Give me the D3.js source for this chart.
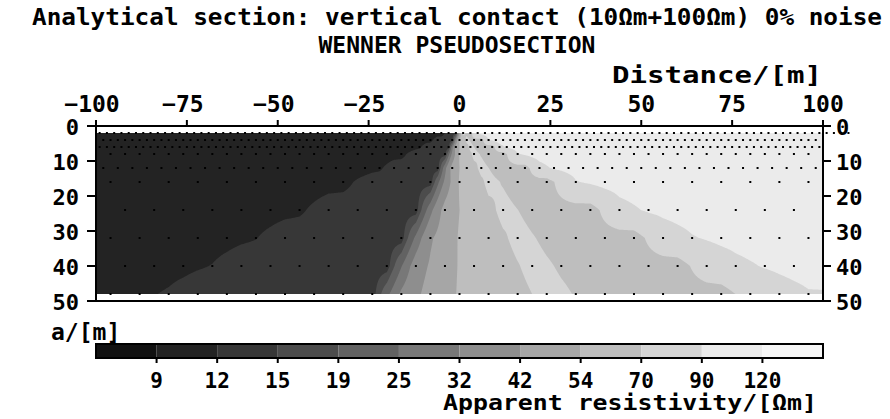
<!DOCTYPE html>
<html>
<head>
<meta charset="utf-8">
<script src="https://cdn.jsdelivr.net/npm/d3@7"></script>
<style>
  html, body { margin: 0; padding: 0; background: #fff; }
  svg { display: block; }
  text { font-family: "DejaVu Sans Mono", "Liberation Mono", monospace; font-weight: bold; fill: #000; }
</style>
</head>
<body>
<svg id="chart" width="890" height="419"></svg>
<script>
// Wenner pseudosection over a vertical contact (10 Ohm.m | 100 Ohm.m)

// Colour classes: boundaries in Ohm.m and the grey of each class
const classBreaks = [9, 12, 15, 19, 25, 32, 42, 54, 70, 90, 120];
const classGreys = ["#111111", "#232323", "#373737", "#4c4c4c", "#626262", "#787878",
                    "#8e8e8e", "#a6a6a6", "#bebebe", "#d5d5d5", "#ebebeb", "#f6f6f6"];

// Electrode spacings a (m), one per data row
const spacings = [2, 4, 6, 8, 12, 16, 24, 32, 40, 48];
// Station grid of each row: first midpoint and step along the line (m)
const rowStart = [-99, -100, -99, -100, -98, -96, -100, -96, -100, -96];
const rowStep  = [2, 2, 2, 4, 4, 8, 8, 8, 8, 8];

// Apparent resistivity (Ohm.m) at each station, row by row
const rhoA2 = [
  10,10,10,10,10,10,10,10,10,10,10,10,10,10,10,10,10,10,10,10,10,10,10,10,10,10,10,10,10,10,
  10,10,10,10,10,10,10,10,10,10,10,10,10,10,10,
  10.1,10.2,10.5,13.7,12.7,72.7,63.2,95.1,98.4,99.3,99.6,99.8,
  100,100,100,100,100,100,100,100,100,100,100,100,100,100,100,100,100,100,100,100,100,100,
  100,100,100,100,100,100,100,100,100,100,100,100,100,100,100,100,100,100,100,100,100,100,100,100,100
];
const rhoA4 = [
  10,10,10,10,10,10,10,10,10,10,10,10,10,10,10,10,10,10,10,10,10,10,10,10,10,10,10,10,10,10,
  10,10,10,10,10,10,10,10,10,10,
  10.1,10.1,10.1,10.2,10.3,10.5,11.1,13.7,13.4,12.7,55,72.7,65.9,63.2,89.1,95.1,97.4,98.4,99,99.3,99.5,99.6,99.7,
  100,100,100,100,100,100,100,100,100,100,100,100,100,100,100,100,100,100,100,100,100,100,
  100,100,100,100,100,100,100,100,100,100,100,100,100,100,100,100
];
const rhoA6 = [
  10,10,10,10,10,10,10,10,10,10,10,10,10,10,10,10,10,10,10,10,10,10,10,10,10,10,10,10,10,10,
  10,10,
  10,10,10.1,10.1,10.1,10.1,10.1,10.2,10.2,10.3,10.5,10.8,11.5,13.7,13.5,13.3,12.7,46.2,61.7,72.7,
  67.5,64.8,63.2,84.7,91.9,95.1,96.8,97.8,98.4,98.8,99.1,99.3,99.4,99.5,99.6,99.7,99.7,99.8,
  100,100,100,100,100,100,100,100,100,100,100,100,100,100,100,100,100,100,100,100,100,100,
  100,100,100,100,100,100,100,100
];
const rhoA8 = [
  10,10,10,10,10,10,10,10,10,10,10,10,
  10,10,10,10.1,10.1,10.1,10.2,10.3,10.5,11.1,13.7,13.4,12.7,55,72.7,65.9,63.2,89.1,95.1,97.4,
  98.4,99,99.3,99.5,99.6,99.7,99.8,99.8,99.9,99.9,
  100,100,100,100,100,100,100,100,100
];
const rhoA12 = [
  10,10,10,10,10,10,10,10,10,10,
  10.1,10.1,10.1,10.1,10.2,10.2,10.3,10.5,10.8,11.5,13.7,13.5,13.3,12.7,46.2,61.7,72.7,67.5,64.8,63.2,
  84.7,91.9,95.1,96.8,97.8,98.4,98.8,99.1,99.3,99.4,99.5,99.6,99.7,99.7,99.8,99.8,99.8,99.9,99.9,99.9
];
const rhoA16 = [
  10,10,10.1,10.1,10.1,10.2,10.3,10.5,11.1,13.7,13.4,12.7,55,72.7,65.9,63.2,89.1,95.1,97.4,98.4,
  99,99.3,99.5,99.6,99.7
];
const rhoA24 = [
  10.1,10.1,10.2,10.2,10.3,10.5,10.8,11.5,13.7,13.5,13.3,12.7,46.2,61.7,72.7,67.5,64.8,63.2,84.7,91.9,
  95.1,96.8,97.8,98.4,98.8,99.1
];
const rhoA32 = [
  10.3,10.4,10.5,10.7,11.1,11.9,13.7,13.6,13.4,13.2,12.7,40.6,55,64.6,72.7,68.4,65.9,64.3,63.2,81.5,
  89.1,92.9,95.1,96.5,97.4
];
const rhoA40 = [
  10.5,10.7,10.9,11.3,12.1,13.7,13.6,13.5,13.3,13.1,12.7,36.5,50.1,59.2,66.2,72.7,69.1,66.8,65.2,64,
  63.2,79.1,86.7,90.9,93.5,95.1
];
const rhoA48 = [
  11.1,11.5,12.3,13.7,13.6,13.5,13.4,13.3,13,12.7,33.5,46.2,55,61.7,67.3,72.7,69.6,67.5,65.9,64.8,
  63.9,63.2,77.2,84.7,89.1
];
const rowValues = [rhoA2, rhoA4, rhoA6, rhoA8, rhoA12, rhoA16, rhoA24, rhoA32, rhoA40, rhoA48];

// Axis ticks
const distanceTicks = [-100, -75, -50, -25, 0, 25, 50, 75, 100];
const spacingTicks = [0, 10, 20, 30, 40, 50];

const svg = d3.select("#chart");

const x = d3.scaleLinear().domain([-100, 100]).range([96, 823]);
const y = d3.scaleLinear().domain([0, 50]).range([126, 301]);

// Station records for every row
const rows = spacings.map((a, r) => {
  const pts = rowValues[r].map((v, i) => ({ x: rowStart[r] + i * rowStep[r], a, v }));
  return { a, pts };
});

// Value at (xd, row) by linear interpolation along the row
function alongRow(row, xd) {
  const p = row.pts;
  if (xd <= p[0].x) return p[0].v;
  if (xd >= p[p.length - 1].x) return p[p.length - 1].v;
  const i = d3.bisector(d => d.x).right(p, xd) - 1;
  const t = (xd - p[i].x) / (p[i + 1].x - p[i].x);
  return p[i].v + t * (p[i + 1].v - p[i].v);
}

// Regular grid for contouring: linear along rows, then linear between rows
const gx0 = -100, gx1 = 100, gdx = 0.25;
const ga0 = spacings[0], ga1 = spacings[spacings.length - 1], gda = 0.25;
const nx = Math.round((gx1 - gx0) / gdx) + 1;
const ny = Math.round((ga1 - ga0) / gda) + 1;
const grid = new Float64Array(nx * ny);
for (let j = 0; j < ny; j++) {
  const a = ga0 + j * gda;
  let r = d3.bisectRight(spacings, a) - 1;
  if (r >= spacings.length - 1) r = spacings.length - 2;
  const t = (a - spacings[r]) / (spacings[r + 1] - spacings[r]);
  for (let i = 0; i < nx; i++) {
    const xd = gx0 + i * gdx;
    const v0 = alongRow(rows[r], xd), v1 = alongRow(rows[r + 1], xd);
    grid[j * nx + i] = v0 + t * (v1 - v0);
  }
}

const bands = d3.contours().size([nx, ny]).thresholds(classBreaks)(grid);
const toScreen = d3.geoTransform({
  point(gxp, gyp) {
    this.stream.point(x(gx0 + (gxp - 0.5) * gdx), y(ga0 + (gyp - 0.5) * gda));
  }
});
const path = d3.geoPath(toScreen);

svg.append("clipPath").attr("id", "dataClip")
  .append("rect")
  .attr("x", x(-100)).attr("y", y(ga0))
  .attr("width", x(100) - x(-100)).attr("height", y(ga1) - y(ga0));

const field = svg.append("g").attr("clip-path", "url(#dataClip)");
field.selectAll("path.band")
  .data(bands)
  .join("path")
  .attr("class", "band")
  .attr("d", path)
  .attr("fill", d => classGreys[classBreaks.indexOf(d.value) + 1])
  .attr("stroke", "none");

// Station dots
svg.append("g").selectAll("g")
  .data(rows)
  .join("g")
  .selectAll("rect")
  .data(d => d.pts)
  .join("rect")
  .attr("x", d => x(d.x) - 1)
  .attr("y", d => y(d.a) - 1)
  .attr("width", 2).attr("height", 2)
  .attr("fill", "#000");

// Frame and axes
svg.append("rect")
  .attr("x", x(-100)).attr("y", y(0))
  .attr("width", x(100) - x(-100)).attr("height", y(50) - y(0))
  .attr("fill", "none").attr("stroke", "#000").attr("stroke-width", 2);

const fmt = v => (v < 0 ? "\u2212" + Math.abs(v) : String(v));

const topAxis = svg.append("g");
topAxis.selectAll("line").data(distanceTicks).join("line")
  .attr("x1", d => x(d)).attr("x2", d => x(d))
  .attr("y1", y(0)).attr("y2", y(0) - 6)
  .attr("stroke", "#000").attr("stroke-width", 2);
topAxis.selectAll("text").data(distanceTicks).join("text")
  .attr("x", d => x(d) - (d < 0 ? 4 : 0))
  .attr("y", 112)
  .attr("text-anchor", "middle")
  .style("font-size", "23px")
  .text(fmt);

const leftAxis = svg.append("g");
leftAxis.selectAll("line").data(spacingTicks).join("line")
  .attr("x1", x(-100)).attr("x2", x(-100) - 9)
  .attr("y1", d => y(d)).attr("y2", d => y(d))
  .attr("stroke", "#000").attr("stroke-width", 2);
leftAxis.selectAll("text").data(spacingTicks).join("text")
  .attr("x", 79).attr("y", d => y(d) + 9)
  .attr("text-anchor", "end")
  .style("font-size", "22px")
  .text(d => d);

const rightAxis = svg.append("g");
rightAxis.selectAll("line").data(spacingTicks).join("line")
  .attr("x1", x(100)).attr("x2", x(100) + 8)
  .attr("y1", d => y(d)).attr("y2", d => y(d))
  .attr("stroke", "#000").attr("stroke-width", 2);
rightAxis.selectAll("text").data(spacingTicks).join("text")
  .attr("x", 836).attr("y", d => y(d) + 9)
  .attr("text-anchor", "start")
  .style("font-size", "22px")
  .text(d => d);

// Titles and axis names
svg.append("text").attr("x", 32).attr("y", 25)
  .attr("textLength", 850).attr("lengthAdjust", "spacingAndGlyphs")
  .style("font-size", "23px")
  .text("Analytical section: vertical contact (10\u03a9m+100\u03a9m) 0% noise");
svg.append("text").attr("x", 457).attr("y", 53)
  .attr("text-anchor", "middle")
  .style("font-size", "23px")
  .text("WENNER PSEUDOSECTION");
svg.append("text").attr("x", 612).attr("y", 83)
  .attr("textLength", 210).attr("lengthAdjust", "spacingAndGlyphs")
  .style("font-size", "23px")
  .text("Distance/[m]");
svg.append("text").attr("x", 51).attr("y", 340)
  .style("font-size", "23px")
  .text("a/[m]");

// Colour bar legend
const lx = d3.scaleLinear().domain([0, classGreys.length]).range([96, 823]);
const legend = svg.append("g");
legend.selectAll("rect.cls").data(classGreys).join("rect")
  .attr("class", "cls")
  .attr("x", (d, i) => lx(i)).attr("y", 344)
  .attr("width", (d, i) => lx(i + 1) - lx(i)).attr("height", 14)
  .attr("fill", d => d);
legend.append("rect")
  .attr("x", lx(0)).attr("y", 344)
  .attr("width", lx(classGreys.length) - lx(0)).attr("height", 14)
  .attr("fill", "none").attr("stroke", "#000").attr("stroke-width", 2);
legend.selectAll("line").data(classBreaks).join("line")
  .attr("x1", (d, i) => lx(i + 1)).attr("x2", (d, i) => lx(i + 1))
  .attr("y1", 358).attr("y2", 363)
  .attr("stroke", "#000").attr("stroke-width", 2);
legend.selectAll("text").data(classBreaks).join("text")
  .attr("x", (d, i) => lx(i + 1)).attr("y", 388)
  .attr("text-anchor", "middle")
  .style("font-size", "21px")
  .text(d => d);
svg.append("text").attr("x", 443).attr("y", 410)
  .attr("textLength", 374).attr("lengthAdjust", "spacingAndGlyphs")
  .style("font-size", "21px")
  .text("Apparent resistivity/[\u03a9m]");
</script>
</body>
</html>
